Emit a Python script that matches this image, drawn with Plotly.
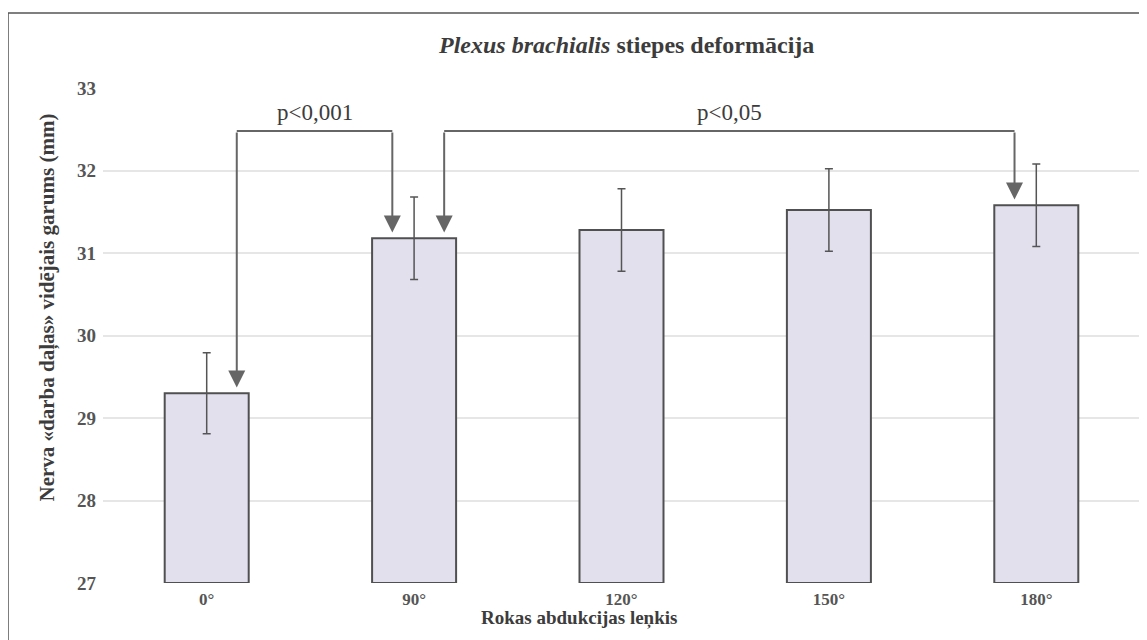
import plotly.graph_objects as go

# ---- data ----
angles = ["0°", "90°", "120°", "150°", "180°"]
mean_len = [29.30, 31.18, 31.28, 31.52, 31.58]
sd_len = [0.49, 0.50, 0.50, 0.50, 0.50]
y_ticks = [27, 28, 29, 30, 31, 32, 33]
comparisons = [(0, 1, "p<0,001"), (1, 4, "p<0,05")]
bracket_level = 32.48
label_level = 32.70

# ---- style ----
FONT = "Liberation Serif"
TXT = "#3c3c3c"
GRAY = "#666666"
x_pos = list(range(len(angles)))

fig = go.Figure()
fig.add_trace(go.Bar(
    x=x_pos, y=[m - 27 for m in mean_len], base=27,
    width=0.405,
    marker=dict(color="#e3e0ee", line=dict(color="#505050", width=2)),
    error_y=dict(type="data", array=sd_len, color="#555555", thickness=1.5, width=4),
    hoverinfo="skip", showlegend=False,
))

annotations = []
shapes = []
left_off, right_off, tip_gap = 0.145, -0.105, 0.07
for i, j, lab in comparisons:
    xl = x_pos[i] + left_off
    xr = x_pos[j] + right_off
    shapes.append(dict(type="line", xref="x", yref="y", x0=xl, x1=xr,
                       y0=bracket_level, y1=bracket_level,
                       line=dict(color=GRAY, width=2)))
    for xa, k in ((xl, i), (xr, j)):
        annotations.append(dict(
            x=xa, y=mean_len[k] + tip_gap, xref="x", yref="y",
            ax=xa, ay=bracket_level, axref="x", ayref="y",
            showarrow=True, arrowhead=2, arrowsize=1.7, arrowwidth=2,
            arrowcolor=GRAY, standoff=0, text=""))
    annotations.append(dict(
        x=(xl + xr) / 2, y=label_level, xref="x", yref="y", text=lab,
        showarrow=False, font=dict(family=FONT, size=23, color=TXT)))

annotations.append(dict(
    x=0.459, y=-0.0707, xref="paper", yref="paper", yanchor="middle",
    text="<b>Rokas abdukcijas leņkis</b>", showarrow=False,
    font=dict(family=FONT, size=19, color=TXT)))
annotations.append(dict(
    x=-0.054, y=0.5566, xref="paper", yref="paper", textangle=-90,
    xanchor="center", yanchor="middle",
    text="<b>Nerva «darba daļas» vidējais garums (mm)</b>", showarrow=False,
    font=dict(family=FONT, size=21, color=TXT)))

# outer frame (top and left edges)
shapes.append(dict(type="path", xref="paper", yref="paper",
                   path="M -0.0916,-0.2 L -0.0916,1.1515 L 1.05,1.1515",
                   line=dict(color="#555555", width=1.5)))

fig.update_layout(
    width=1139, height=632,
    margin=dict(l=95, r=7, t=80, b=57),
    paper_bgcolor="white", plot_bgcolor="white",
    title=dict(text="<b><i>Plexus brachialis</i> stiepes deformācija</b>",
               x=0.505, xref="paper", y=1 - 37 / 632, yref="container",
               xanchor="center", yanchor="middle",
               font=dict(family=FONT, size=24, color=TXT)),
    xaxis=dict(range=[-0.5, 4.5], tickvals=x_pos, ticktext=[f"<b>{a}</b>" for a in angles],
               showgrid=False, zeroline=False, showline=False, ticks="",
               ticklabelstandoff=4,
               tickfont=dict(family=FONT, size=17, color="#555555")),
    yaxis=dict(range=[27, 33], tickvals=y_ticks, ticktext=[f"<b>{t}</b>" for t in y_ticks],
               showgrid=True, gridcolor="#e6e6e6", gridwidth=1.5,
               zeroline=False, showline=False, ticks="",
               ticklabelstandoff=6,
               tickfont=dict(family=FONT, size=19, color="#555555")),
    shapes=shapes, annotations=annotations,
    bargap=0.595,
)

fig.write_html("out.html")
